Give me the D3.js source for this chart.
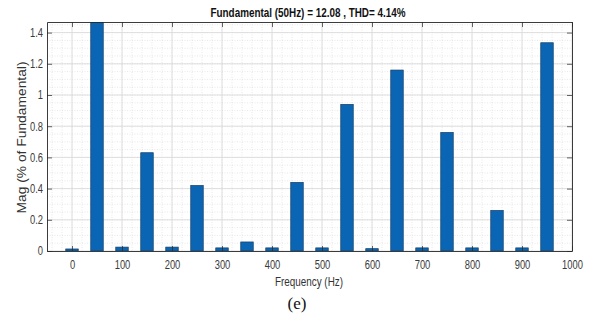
<!DOCTYPE html>
<html>
<head>
<meta charset="utf-8">
<script src="https://cdn.jsdelivr.net/npm/d3@7"></script>
<style>
  body { margin: 0; background: #fff; }
  text { font-family: "Liberation Sans", Arial, sans-serif; }
</style>
</head>
<body>
<svg width="589" height="320"></svg>
<script>
// harmonic spectrum, % of fundamental
var freqs = [0, 50, 100, 150, 200, 250, 300, 350, 400, 450, 500, 550, 600, 650, 700, 750, 800, 850, 900, 950];
var mags  = [0.013, 1.5, 0.025, 0.63, 0.025, 0.42, 0.02, 0.058, 0.02, 0.44, 0.02, 0.94, 0.015, 1.16, 0.02, 0.76, 0.02, 0.26, 0.02, 1.335];
var xTicks = [0, 100, 200, 300, 400, 500, 600, 700, 800, 900, 1000];
var yTicks = [0, 0.2, 0.4, 0.6, 0.8, 1, 1.2, 1.4];

var svg = d3.select("svg"),
    pLeft = 47, pTop = 22, pRight = 572, pBottom = 251;

var x = d3.scaleLinear().domain([-50, 1000]).range([pLeft, pRight]),
    y = d3.scaleLinear().domain([0, 1.468]).range([pBottom, pTop]);

svg.append("defs").append("clipPath").attr("id", "clip")
    .append("rect").attr("x", pLeft).attr("y", pTop)
    .attr("width", pRight - pLeft).attr("height", pBottom - pTop);

var g = svg.append("g");

// minor grid
g.selectAll(".mx").data(d3.range(-40, 1000, 20))
    .enter().append("line")
    .attr("x1", d => x(d)).attr("x2", d => x(d))
    .attr("y1", pTop).attr("y2", pBottom)
    .attr("stroke", "#d6d6d6").attr("stroke-width", 0.6).attr("stroke-dasharray", "1,1.5");
g.selectAll(".my").data(d3.range(0.05, 1.46, 0.05))
    .enter().append("line")
    .attr("x1", pLeft).attr("x2", pRight)
    .attr("y1", d => y(d)).attr("y2", d => y(d))
    .attr("stroke", "#d6d6d6").attr("stroke-width", 0.6).attr("stroke-dasharray", "1,1.5");

// major grid
g.selectAll(".gx").data(xTicks)
    .enter().append("line")
    .attr("x1", d => x(d)).attr("x2", d => x(d))
    .attr("y1", pTop).attr("y2", pBottom)
    .attr("stroke", "#d8d8d8").attr("stroke-width", 0.8);
g.selectAll(".gy").data(yTicks)
    .enter().append("line")
    .attr("x1", pLeft).attr("x2", pRight)
    .attr("y1", d => y(d)).attr("y2", d => y(d))
    .attr("stroke", "#d8d8d8").attr("stroke-width", 0.8);

// bars
var bw = x(25) - x(0);
g.append("g").attr("clip-path", "url(#clip)")
    .selectAll("rect").data(freqs)
    .enter().append("rect")
    .attr("x", d => x(d) - bw / 2)
    .attr("y", (d, i) => y(mags[i]))
    .attr("width", bw)
    .attr("height", (d, i) => pBottom - y(mags[i]))
    .attr("fill", "#0a66b4")
    .attr("stroke", "#173c63")
    .attr("stroke-width", 0.7);

// axes (box with ticks on all sides)
var axCol = "#262626";
var xb = g.append("g").attr("transform", "translate(0," + pBottom + ")")
    .call(d3.axisBottom(x).tickValues(xTicks).tickSizeInner(-5).tickSizeOuter(0).tickPadding(9)
        .tickFormat(d3.format("d")));
var xt = g.append("g").attr("transform", "translate(0," + pTop + ")")
    .call(d3.axisTop(x).tickValues(xTicks).tickSizeInner(-5).tickSizeOuter(0).tickFormat(""));
var yl = g.append("g").attr("transform", "translate(" + pLeft + ",0)")
    .call(d3.axisLeft(y).tickValues(yTicks).tickSizeInner(-5).tickSizeOuter(0).tickPadding(4)
        .tickFormat(d3.format("~g")));
var yr = g.append("g").attr("transform", "translate(" + pRight + ",0)")
    .call(d3.axisRight(y).tickValues(yTicks).tickSizeInner(-5).tickSizeOuter(0).tickFormat(""));

[xb, xt, yl, yr].forEach(function(a) {
    a.select(".domain").attr("stroke", axCol).attr("stroke-width", 0.9);
    a.selectAll(".tick line").attr("stroke", axCol).attr("stroke-width", 0.7);
    a.selectAll(".tick text").attr("fill", "#3a3a3a").attr("font-size", "12px")
        .attr("font-family", "'Liberation Sans', Arial, sans-serif")
        .each(function() {
            // MATLAB export looks condensed: squeeze glyphs
            var w = this.getComputedTextLength();
            d3.select(this).attr("textLength", w * 0.78).attr("lengthAdjust", "spacingAndGlyphs");
        });
});

// title and labels
svg.append("text")
    .attr("x", 308).attr("y", 17)
    .attr("text-anchor", "middle")
    .attr("font-size", "12px").attr("font-weight", "bold").attr("fill", "#111")
    .attr("textLength", 195).attr("lengthAdjust", "spacingAndGlyphs")
    .text("Fundamental (50Hz) = 12.08 , THD= 4.14%");

svg.append("text")
    .attr("transform", "translate(26," + ((pTop + pBottom) / 2 + 1) + ") rotate(-90)")
    .attr("text-anchor", "middle")
    .attr("font-size", "12.5px").attr("fill", "#333")
    .attr("textLength", 152).attr("lengthAdjust", "spacingAndGlyphs")
    .text("Mag (% of Fundamental)");

svg.append("text")
    .attr("x", 309).attr("y", 286)
    .attr("text-anchor", "middle")
    .attr("font-size", "12.5px").attr("fill", "#333")
    .attr("textLength", 68).attr("lengthAdjust", "spacingAndGlyphs")
    .text("Frequency (Hz)");

svg.append("text")
    .attr("x", 297).attr("y", 309)
    .attr("text-anchor", "middle")
    .attr("font-size", "17px").attr("fill", "#111")
    .style("font-family", "'Liberation Serif', 'Times New Roman', serif")
    .text("(e)");
</script>
</body>
</html>
